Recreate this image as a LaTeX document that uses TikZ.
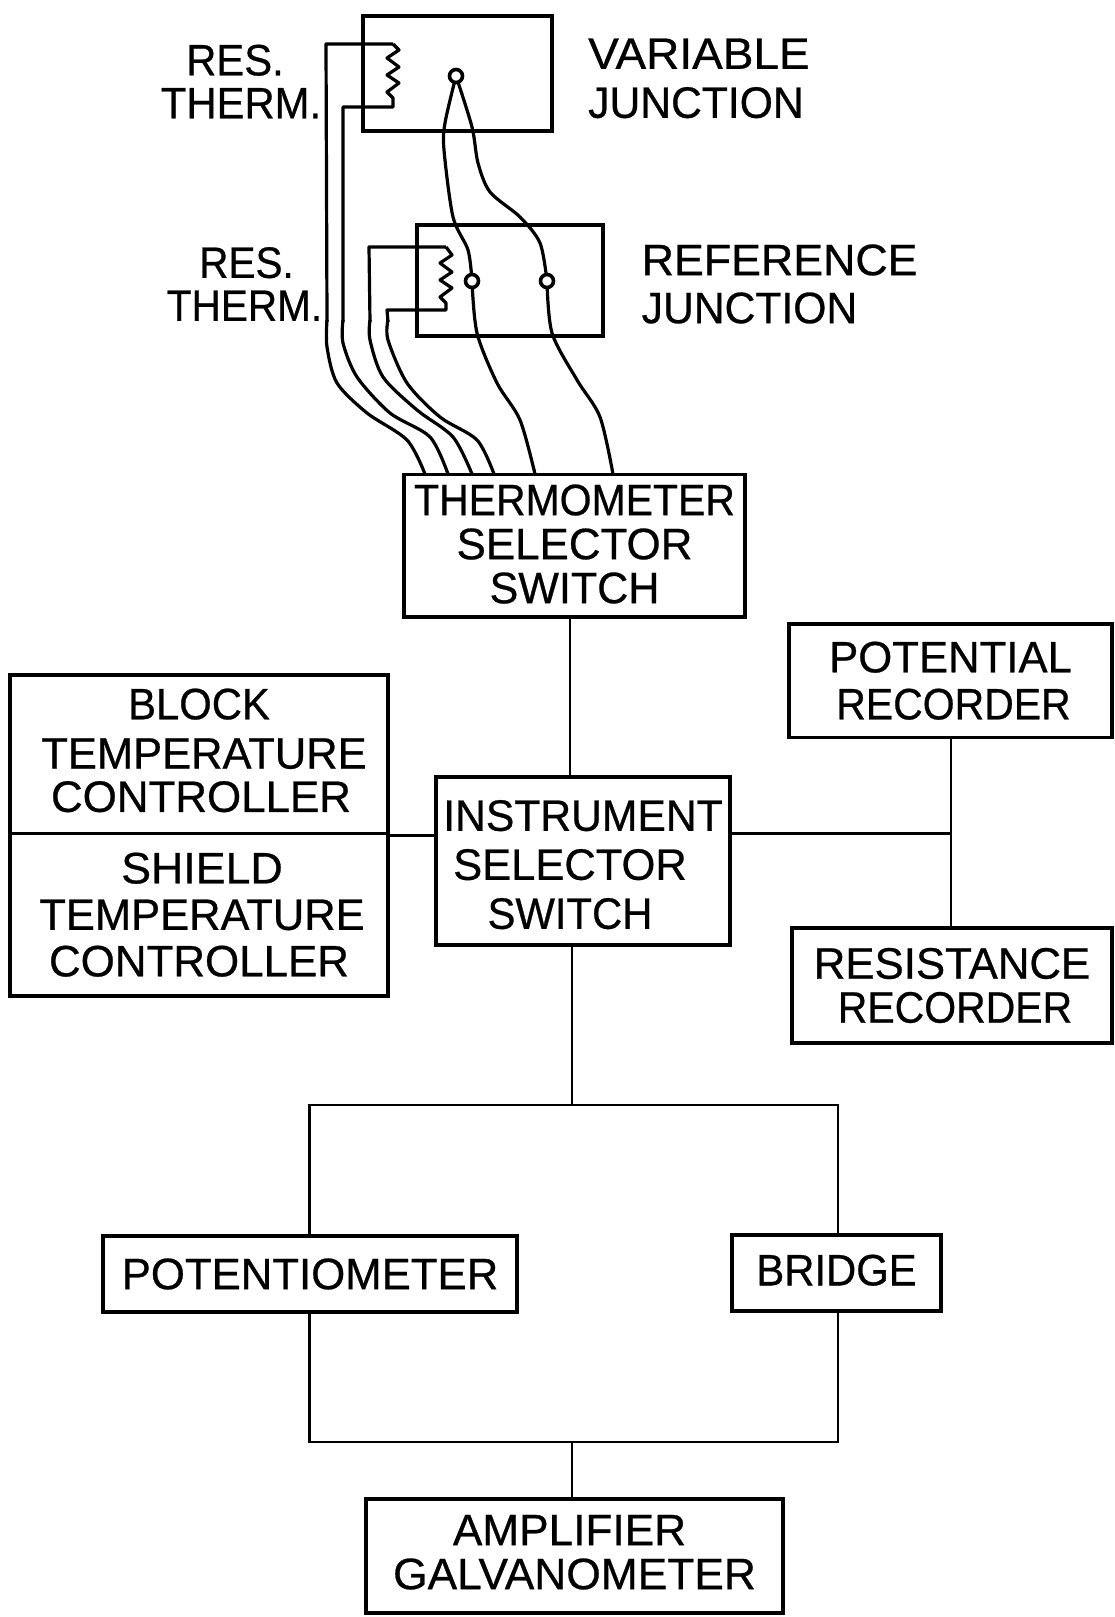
\documentclass[tikz,border=0pt]{standalone}
\usepackage{fontspec}
\newfontfamily\lfont[FakeStretch=0.95,FakeBold=0.6]{Liberation Sans}
\usetikzlibrary{calc}
\newcommand{\wid}[2]{\scalebox{#1}[1]{#2}}
\newcommand{\topgap}[1]{\rule{0pt}{#1}}
\newcommand{\botgap}[1]{\rule[-#1]{0pt}{#1}}
\tikzset{
  lettering/.style={font=\lfont\fontsize{44}{#1}\selectfont, align=center, inner sep=0pt, text=black},
  boxed/.style={draw=black, line width=3.8pt, rectangle, inner sep=0pt, lettering=#1},
  blank/.style={draw=black, line width=3.8pt, rectangle, inner sep=0pt},
  free/.style={lettering=#1, anchor=center},
  freeleft/.style={lettering=#1, align=left, anchor=west},
  conn/.style={draw=black, line width=2.8pt, line join=miter},
  wire/.style={draw=black, line width=3.2pt, line join=round},
  term/.style={circle, draw=black, fill=white, line width=3.6pt, minimum size=13pt, inner sep=0pt}
}
\begin{document}
\begin{tikzpicture}[x=1pt,y=-1pt]
\useasboundingbox (0,0) rectangle (1114,1617);
\fill[white] (0,0) rectangle (1114,1617);

% --- boxes
\node[blank, minimum width=189pt, minimum height=115pt] (varbox) at (457.5,73.5) {};
\node[blank, minimum width=186pt, minimum height=111pt] (refbox) at (510,280.5) {};
\node[boxed=44pt, minimum width=341pt, minimum height=142.5pt] (therm) at (574.5,545.8) {\wid{.98}{THERMOMETER}\\\wid{1.05}{SELECTOR}\\\botgap{4pt}\wid{1.03}{SWITCH}};
\node[boxed=49pt, minimum width=294pt, minimum height=168pt] (instr) at (583,861) {\topgap{38pt}\wid{1.02}{INSTRUMENT}\\\hspace*{-26pt}\wid{1.04}{SELECTOR}\\\hspace*{-26pt}SWITCH};
\node[boxed=43.3pt, minimum width=377.5pt, minimum height=158.5pt] (block) at (199,754.2) {BLOCK\\[6pt]\hspace*{10pt}\wid{1.04}{TEMPERATURE}\\\botgap{8pt}\hspace*{4pt}\wid{1.05}{CONTROLLER}};
\node[boxed=46.5pt, minimum width=377.5pt, minimum height=162.5pt] (shield) at (199,914.7) {\hspace*{6pt}\wid{1.07}{SHIELD}\\\hspace*{6pt}\wid{1.04}{TEMPERATURE}\\\wid{1.05}{CONTROLLER}};
\node[boxed=47pt, minimum width=323pt, minimum height=113.5pt] (potrec) at (950.5,680.7) {\wid{1.045}{POTENTIAL}\\\hspace*{6pt}\wid{.98}{RECORDER}};
\node[boxed=44pt, minimum width=320pt, minimum height=115pt] (resrec) at (952,985.5) {\wid{1.047}{RESISTANCE}\\\hspace*{6pt}\wid{.98}{RECORDER}};
\node[boxed=44pt, minimum width=414pt, minimum height=76pt] (potm) at (310,1274) {\wid{1.046}{POTENTIOMETER}};
\node[boxed=44pt, minimum width=209pt, minimum height=76pt] (bridge) at (836.5,1273) {\botgap{6pt}BRIDGE};
\node[boxed=44pt, minimum width=417pt, minimum height=114pt] (amp) at (574.5,1556) {\hspace*{-10pt}\wid{1.057}{AMPLIFIER}\\\botgap{8pt}\wid{1.06}{GALVANOMETER}};

% --- free labels
\node[free=43pt] (lab1) at (235,81.5) {RES.\\\hspace*{12pt}THERM.};
\node[free=43pt] (lab2) at (244.5,284) {\hspace*{4pt}\wid{.97}{RES.}\\\wid{.97}{THERM.}};
\node[freeleft=49pt] (lab3) at (588,78.4) {\wid{1.10}{VARIABLE}\\\wid{1.02}{JUNCTION}};
\node[freeleft=48pt] (lab4) at (641.5,284) {\wid{1.07}{REFERENCE}\\\wid{1.02}{JUNCTION}};

% --- anchor coordinates
\coordinate (c1) at (570,700);
\coordinate (j) at (951,833.5);
\coordinate (tl) at (309.5,1105);
\coordinate (tm) at (572,1105);
\coordinate (tr) at (838,1105);
\coordinate (bl) at (309.5,1442);
\coordinate (bm) at (572,1442);
\coordinate (br) at (838,1442);

% --- straight connectors
\draw[conn] (therm.south -| c1) -- (instr.north -| c1);
\draw[conn] (block.south east) -- (instr.west |- block.south east);
\draw[conn] (instr.east |- j) -- (j);
\draw[conn] (potrec.south -| j) -- (resrec.north -| j);
\draw[conn] (instr.south -| tm) -- (tm);
\draw[conn] (potm.north -| tl) -- (tl) -- (tr) -- (bridge.north -| tr);
\draw[conn] (potm.south -| bl) -- (bl) -- (br) -- (bridge.south -| br);
\draw[conn] (bm) -- (amp.north -| bm);

% --- wire end coordinates on the thermometer switch
\coordinate (t1) at (425,474);
\coordinate (t2) at (448,474);
\coordinate (t3) at (472,474);
\coordinate (t4) at (494,474);
\coordinate (t5) at (535,474);
\coordinate (t6) at (613,474);

% --- terminals
\coordinate (J1) at (456,76);
\coordinate (J2) at (472,281);
\coordinate (J3) at (547,281);

% --- thermocouple wires
\draw[wire] plot[smooth] coordinates {(J1) (445,123) (444,150) (453,217) (468,250) (J2)};
\draw[wire] plot[smooth] coordinates {(J1) (472,127) (478,163) (490,192) (520,217) (540,243) (J3)};
\draw[wire] plot[smooth] coordinates {(J2) (477,333) (497,383) (520,420) (t5)};
\draw[wire] plot[smooth] coordinates {(J3) (552,333) (577,380) (600,417) (t6)};

% --- resistance thermometers
\draw[wire] (393,44) -- (326,44) -- (327,322);
\draw[wire] (393,44) -- (399,50) -- (387,58) -- (399,67) -- (387,75) -- (399,83) -- (387,92) -- (393,98) -- (393,107) -- (343,107) -- (343,322);
\draw[wire] (446,247) -- (452,255) -- (440,263) -- (452,272) -- (440,280) -- (452,288) -- (440,297) -- (446,303) -- (446,310) -- (387,310) -- (388,322);
\draw[wire] (446,247) -- (369,247) -- (370,322);
\draw[wire] plot[smooth] coordinates {(327,320) (327,347) (337,383) (367,413) (407,440) (t1)};
\draw[wire] plot[smooth] coordinates {(343,320) (343,343) (357,377) (390,413) (430,437) (t2)};
\draw[wire] plot[smooth] coordinates {(370,320) (370,340) (383,377) (417,410) (453,437) (t3)};
\draw[wire] plot[smooth] coordinates {(388,320) (388,340) (407,383) (440,417) (477,440) (t4)};

\node[term] (n1) at (J1) {};
\node[term] (n2) at (J2) {};
\node[term] (n3) at (J3) {};
\end{tikzpicture}
\end{document}
